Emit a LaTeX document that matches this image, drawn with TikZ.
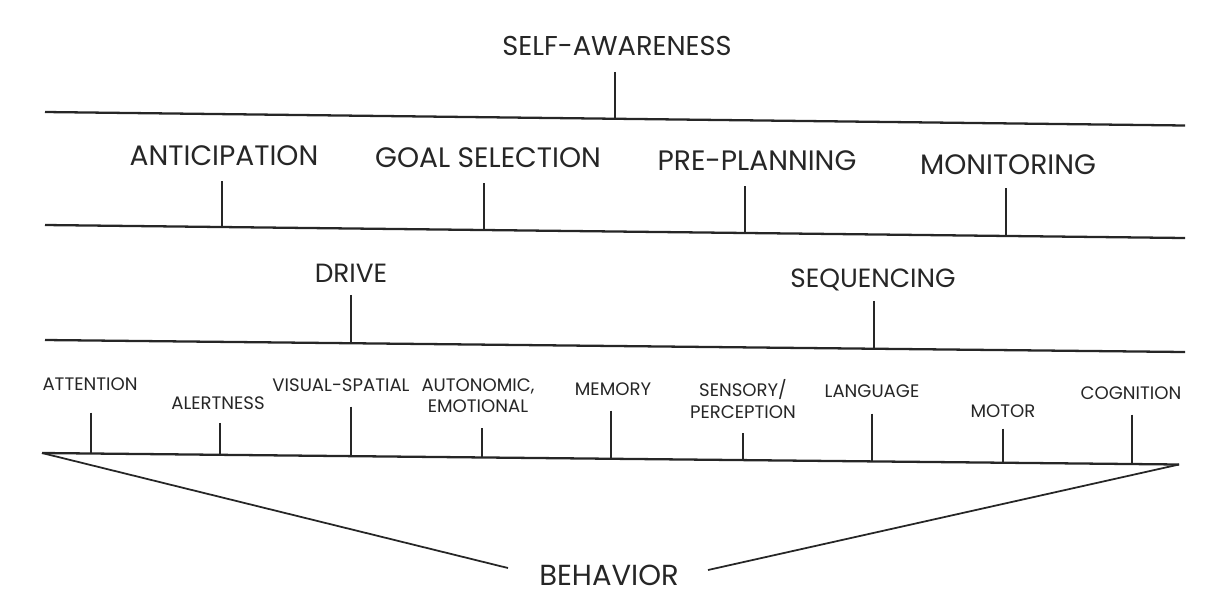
\documentclass[tikz,border=0pt]{standalone}
\usepackage{fontspec}
\setmainfont{Poppins}
\usepackage{tikz}
\usetikzlibrary{calc}

\begin{document}
\begin{tikzpicture}[x=0.02cm,y=-0.02cm,
  big/.style={inner sep=0pt,text depth=0pt,text=black!85,font=\fontsize{15}{18}\selectfont},
  mid/.style={big,font=\fontsize{16}{19}\selectfont},
  small/.style={inner sep=0pt,text depth=0pt,align=center,text=black!85,font=\fontsize{10.3}{12}\selectfont},
  bar/.style={line width=1.3pt,black!85},
  tick/.style={line width=1pt,black!85,shorten <=#1},
  tick/.default=8.5pt,
  side/.style={line width=1pt,black!85}]
  \useasboundingbox (0,0) rectangle (1206,596);
  % level lines
  \coordinate (l1w) at (45,112);  \coordinate (l1e) at (1185,125.5);
  \coordinate (l2w) at (45,225);  \coordinate (l2e) at (1185,238);
  \coordinate (l3w) at (45,340);  \coordinate (l3e) at (1185,352);
  \coordinate (l4w) at (42,453);  \coordinate (l4e) at (1179,464.5);
  \coordinate (bw) at (508,568);  \coordinate (be) at (708,570);
  % top
  \node[big,font=\fontsize{15.5}{18}\selectfont] (self) at (617,46) {SELF-AWARENESS};
  \coordinate (selfF) at (615,118.5);
  % second level
  \node[mid] (ant)  at (224,156) {ANTICIPATION};
  \node[mid] (goal) at (488,158) {GOAL SELECTION};
  \node[mid] (pre)  at (757,161) {PRE-PLANNING};
  \node[mid] (mon)  at (1008,165) {MONITORING};
  \coordinate (antF)  at (222,227);
  \coordinate (goalF) at (484,230);
  \coordinate (preF)  at (745,233);
  \coordinate (monF)  at (1006,236);
  % third level
  \node[big] (drive) at (351,273) {DRIVE};
  \node[big] (seq)   at (873,278) {SEQUENCING};
  \coordinate (driveF) at (351,343);
  \coordinate (seqF)   at (874,348);
  % bottom level
  \node[small] (att) at (90,384)   {ATTENTION};
  \node[small] (ale) at (218,403)  {ALERTNESS};
  \node[small] (vis) at (341,385)  {VISUAL-SPATIAL};
  \node[small] (aut) at (478,396)  {AUTONOMIC,\\EMOTIONAL};
  \node[small] (mem) at (613,389)  {MEMORY};
  \node[small] (sen) at (743,399)  {SENSORY/\\PERCEPTION};
  \node[small] (lan) at (872,391)  {LANGUAGE};
  \node[small] (mot) at (1003,411) {MOTOR};
  \node[small] (cog) at (1131,393) {COGNITION};
  \coordinate (attF) at (91,453.5);
  \coordinate (aleF) at (220,455);
  \coordinate (visF) at (351,456);
  \coordinate (autF) at (482,457.5);
  \coordinate (memF) at (611,459);
  \coordinate (senF) at (743,460);
  \coordinate (lanF) at (872,461.5);
  \coordinate (motF) at (1003,463);
  \coordinate (cogF) at (1132,464);
  \node[big,font=\fontsize{16.5}{19}\selectfont] (beh) at (609,575) {BEHAVIOR};

  \draw[bar] (l1w) -- (l1e);
  \draw[bar] (l2w) -- (l2e);
  \draw[bar] (l3w) -- (l3e);
  \draw[bar] (l4w) -- (l4e);
  \draw[side] (l4w) -- (bw);
  \draw[side] (l4e) -- (be);

  \draw[tick=9pt] (self.south -| selfF) -- (selfF);
  \draw[tick] (ant.south -| antF) -- (antF);
  \draw[tick] (goal.south -| goalF) -- (goalF);
  \draw[tick] (pre.south -| preF) -- (preF);
  \draw[tick=7.5pt] (mon.south -| monF) -- (monF);
  \draw[tick=7pt] (drive.south -| driveF) -- (driveF);
  \draw[tick=7.5pt] (seq.south -| seqF) -- (seqF);
  \draw[tick=12.5pt] (att.south -| attF) -- (attF);
  \draw[tick=7.4pt] (ale.south -| aleF) -- (aleF);
  \draw[tick] (vis.south -| visF) -- (visF);
  \draw[tick] (aut.south -| autF) -- (autF);
  \draw[tick] (mem.south -| memF) -- (memF);
  \draw[tick] (sen.south -| senF) -- (senF);
  \draw[tick=9pt] (lan.south -| lanF) -- (lanF);
  \draw[tick=6.2pt] (mot.south -| motF) -- (motF);
  \draw[tick] (cog.south -| cogF) -- (cogF);
\end{tikzpicture}
\end{document}
